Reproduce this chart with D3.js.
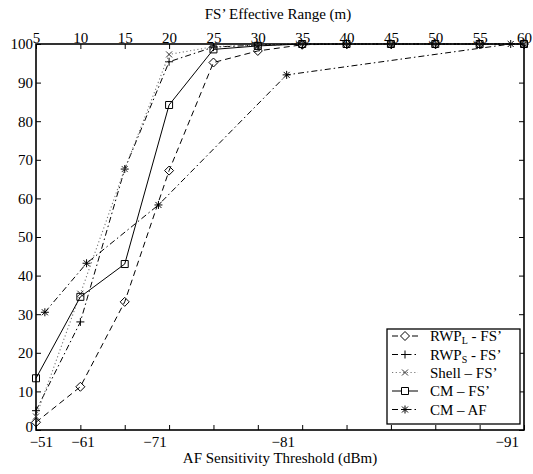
<!DOCTYPE html>
<html>
<head>
<meta charset="utf-8">
<script src="https://cdn.jsdelivr.net/npm/d3@7"></script>
<style>
  html, body { margin: 0; padding: 0; background: #fff; }
  svg { display: block; }
  svg text { font-family: "Liberation Serif", "Times New Roman", Times, serif !important; fill: #000; }
</style>
</head>
<body>
<svg id="chart" width="533" height="474"></svg>
<script>
// ---------- data ----------
const rangeM = [5, 10, 15, 20, 25, 30, 35, 40, 45, 50, 55, 60];
const rwpL  = [2.0, 11.2, 33.2, 67.2, 95.2, 98.2, 99.8, 100, 100, 100, 100, 100];
const rwpS  = [5.0, 28.0, 67.6, 95.4, 99.2, 99.7, 100, 100, 100, 100, 100, 100];
const shell = [3.5, 35.3, 67.6, 97.3, 99.3, 99.7, 100, 100, 100, 100, 100, 100];
const cmFS  = [13.4, 34.5, 43.0, 84.2, 98.6, 99.5, 100, 100, 100, 100, 100, 100];

const afThresholds  = [-51, -61, -71, -81, -91];      // dBm
const afEquivRange  = [6.0, 10.7, 18.8, 33.25, 58.5];  // m, position on range axis
const cmAF          = [30.5, 43.2, 58.3, 92.0, 100];

const yTicks = [0, 10, 20, 30, 40, 50, 60, 70, 80, 90, 100];
const topTicks = rangeM;
const afTickLabels = ["\u221251", "\u221261", "\u221271", "\u221281", "\u221291"];

const legendLabels = [
  {main: "RWP", sub: "L", rest: " - FS\u2019"},
  {main: "RWP", sub: "S", rest: " - FS\u2019"},
  {main: "Shell \u2013 FS\u2019", sub: "", rest: ""},
  {main: "CM \u2013 FS\u2019", sub: "", rest: ""},
  {main: "CM \u2013 AF", sub: "", rest: ""}
];

// ---------- layout ----------
const svg = d3.select("#chart");
const L = 36, R = 524, T = 44, B = 430;
const x = d3.scaleLinear().domain([5, 60]).range([L, R]);
const y = d3.scaleLinear().domain([0, 100]).range([B, T]);
const afScale = d3.scaleLinear().domain(afThresholds).range(afEquivRange.map(v => x(v)));

const FS = 15;
const FONT = "Liberation Serif";

// ---------- axes ----------
const gLeft = svg.append("g").attr("transform", `translate(${L},0)`)
  .call(d3.axisLeft(y).tickValues(yTicks).tickSize(-5).tickPadding(3));
const gRight = svg.append("g").attr("transform", `translate(${R},0)`)
  .call(d3.axisRight(y).tickValues(yTicks).tickSize(-5).tickFormat(""));
const gTop = svg.append("g").attr("transform", `translate(0,${T})`)
  .call(d3.axisTop(x).tickValues(topTicks).tickSize(-5).tickPadding(1));
const gBot = svg.append("g").attr("transform", `translate(0,${B})`)
  .call(d3.axisBottom(x).tickValues(topTicks).tickSize(-5).tickFormat(""));
const gAF = svg.append("g").attr("transform", `translate(0,${B})`)
  .call(d3.axisBottom(afScale).tickValues(afThresholds).tickSize(0).tickPadding(6)
        .tickFormat((d, i) => afTickLabels[i]));

[gLeft, gRight, gTop, gBot, gAF].forEach(g => {
  g.attr("font-family", FONT);
  g.select(".domain").remove();
  g.selectAll("line").attr("stroke", "#000").attr("stroke-width", 1);
  g.selectAll("text").attr("font-size", FS).style("font-family", FONT);
});
gAF.selectAll("text").attr("dx", -4);
gLeft.selectAll(".tick").filter(d => d === 0).select("text").attr("dy", "0.12em");

// box
svg.append("rect").attr("x", L).attr("y", T).attr("width", R - L).attr("height", B - T)
  .attr("fill", "none").attr("stroke", "#000").attr("stroke-width", 1.6);

// titles
svg.append("text").attr("x", (L + R) / 2 - 2).attr("y", 19).attr("text-anchor", "middle")
  .attr("font-size", FS).style("font-family", FONT).text("FS\u2019 Effective Range (m)");
svg.append("text").attr("x", (L + R) / 2).attr("y", 463).attr("text-anchor", "middle")
  .attr("font-size", FS).style("font-family", FONT).text("AF Sensitivity Threshold (dBm)");

// ---------- series ----------
const series = [
  {xs: rangeM.map(x), ys: rwpL,  dash: "6,4",       color: "#000", w: 1,   marker: "diamond"},
  {xs: rangeM.map(x), ys: rwpS,  dash: "6,3,1.5,3", color: "#000", w: 1,   marker: "plus"},
  {xs: rangeM.map(x), ys: shell, dash: "1.2,2.5",   color: "#777", w: 1.1, marker: "cross"},
  {xs: rangeM.map(x), ys: cmFS,  dash: null,        color: "#000", w: 1,   marker: "square"},
  {xs: afThresholds.map(afScale), ys: cmAF, dash: "6,3,1.5,3", color: "#000", w: 1, marker: "star"}
];

function markerPath(type) {
  switch (type) {
    case "diamond": return "M0,-4.5L4.5,0L0,4.5L-4.5,0Z";
    case "square":  return "M-3.5,-3.5H3.5V3.5H-3.5Z";
    case "plus":    return "M-4,0H4M0,-4V4";
    case "cross":   return "M-3,-3L3,3M-3,3L3,-3";
    case "star":    return "M-4,0H4M0,-4V4M-3,-3L3,3M-3,3L3,-3";
  }
}
const markerColor = {diamond: "#000", square: "#000", plus: "#000", cross: "#333", star: "#000"};

const line = d3.line();
const gData = svg.append("g");
series.forEach(s => {
  const pts = s.xs.map((px, i) => [px, y(s.ys[i])]);
  const p = gData.append("path").attr("d", line(pts)).attr("fill", "none")
    .attr("stroke", s.color).attr("stroke-width", s.w);
  if (s.dash) p.attr("stroke-dasharray", s.dash);
  gData.append("g").selectAll("path").data(pts).join("path")
    .attr("transform", d => `translate(${d[0]},${d[1]})`)
    .attr("d", markerPath(s.marker)).attr("fill", "none")
    .attr("stroke", markerColor[s.marker]).attr("stroke-width", 1);
});

// ---------- legend ----------
const lg = svg.append("g");
lg.append("rect").attr("x", 387).attr("y", 329).attr("width", 133).attr("height", 95)
  .attr("fill", "#fff").attr("stroke", "#000").attr("stroke-width", 1.3);
const legY = [336, 354.5, 372.5, 391, 409.5];
series.forEach((s, i) => {
  const cy = legY[i];
  const p = lg.append("path").attr("d", `M392,${cy}H418`).attr("fill", "none")
    .attr("stroke", s.color).attr("stroke-width", s.w);
  if (s.dash) p.attr("stroke-dasharray", s.dash);
  lg.append("path").attr("transform", `translate(405,${cy})`).attr("d", markerPath(s.marker))
    .attr("fill", s.marker === "diamond" || s.marker === "square" ? "#fff" : "none")
    .attr("stroke", markerColor[s.marker]).attr("stroke-width", 1);
  const t = lg.append("text").attr("x", 430).attr("y", cy + 5).attr("font-size", FS)
    .style("font-family", FONT);
  const lab = legendLabels[i];
  t.append("tspan").text(lab.main);
  if (lab.sub) {
    t.append("tspan").attr("font-size", 10).attr("dy", 3).text(lab.sub);
    t.append("tspan").attr("dy", -3).text(lab.rest);
  }
});
</script>
</body>
</html>
